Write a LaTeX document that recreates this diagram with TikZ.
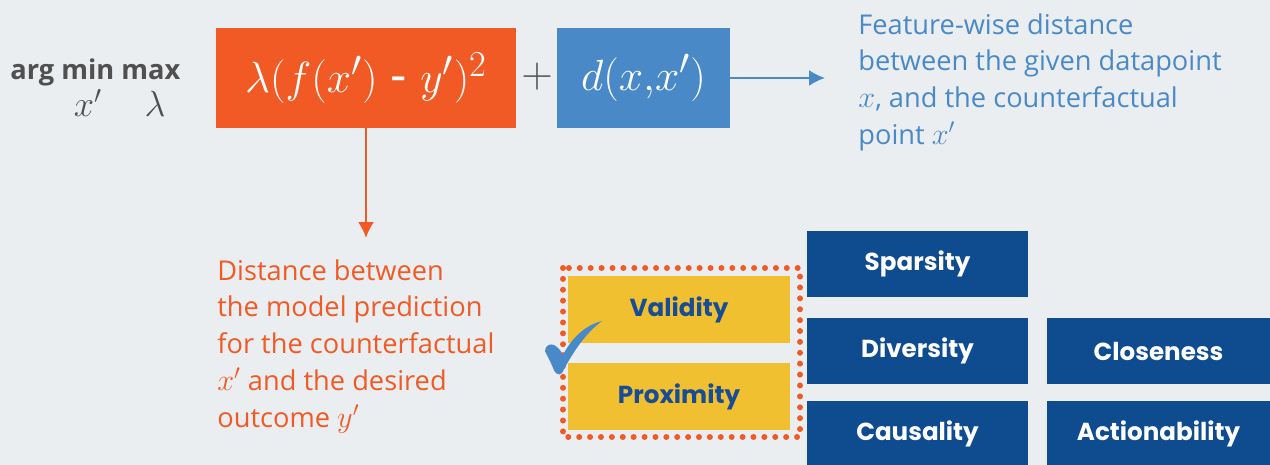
\documentclass[tikz,border=0pt]{standalone}
\usepackage{fontspec}
\setmainfont{Open Sans}
\newfontfamily\boxfont{Poppins}
\usepackage{tikz}
\usetikzlibrary{calc, positioning, arrows.meta}

\definecolor{bgcol}{HTML}{EBEEF0}
\definecolor{lossorange}{HTML}{F15A24}
\definecolor{distblue}{HTML}{4A89C8}
\definecolor{propblue}{HTML}{0F4B8F}
\definecolor{propyellow}{HTML}{F0C030}
\definecolor{yeltext}{HTML}{174C96}
\definecolor{argray}{HTML}{505050}

\newcommand{\notemath}[1]{{\fontsize{18.5}{21}\selectfont$#1$}}

\tikzset{
    termbox/.style={inner sep=0pt, minimum height=2cm, text=white,
        font=\fontsize{29}{32}\selectfont},
    propbox/.style={fill=propblue, inner sep=0pt, minimum width=4.42cm,
        minimum height=1.32cm, text=white, font=\boxfont\bfseries\fontsize{14}{16}\selectfont},
    goodbox/.style={fill=propyellow, inner sep=0pt, minimum width=4.44cm,
        minimum height=1.34cm, text=yeltext, font=\boxfont\bfseries\fontsize{14}{16}\selectfont},
    notetext/.style={anchor=north west, inner sep=0pt, align=left,
        font=\fontsize{15.5}{21}\selectfont},
}

\begin{document}
\begin{tikzpicture}[x=0.02cm, y=-0.02cm, >={Latex[length=9pt, width=9pt]}]
    % fond
    \useasboundingbox[fill=bgcol] (0,0) rectangle (1270,465);

    % objectif
    \node[anchor=base west, inner sep=0pt, text=argray,
        font=\bfseries\fontsize{15.5}{18}\selectfont] (argminmax) at (10,80) {arg min max};
    \node[anchor=base, inner sep=0pt, text=argray,
        font=\fontsize{21}{22}\selectfont] (subx) at (88,117) {$x'$};
    \node[anchor=base, inner sep=0pt, text=argray,
        font=\fontsize{21}{22}\selectfont] (sublam) at (155,117) {$\lambda$};

    % les deux termes
    \node[termbox, fill=lossorange, minimum width=6cm] (loss) at (366,78)
        {$\lambda(f(x')\mbox{ - }y')^2$};
    \node[text=argray, inner sep=0pt, font=\fontsize{23}{24}\selectfont] (plus) at (537,77) {$+$};
    \node[termbox, fill=distblue, minimum width=3.46cm] (dist) at (643.5,78) {$d(x{,}x')$};

    % explications
    \coordinate (distend) at (825,78);
    \draw[->, distblue, line width=1.2pt] (dist.east) -- (distend);
    \node[notetext, text=distblue] (distnote) at (858,13)
        {Feature-wise distance\\between the given datapoint\\\notemath{x}, and the counterfactual\\point \notemath{x'}};

    \coordinate (lossend) at (366,238);
    \draw[->, lossorange, line width=1.2pt] (loss.south) -- (lossend);
    \node[notetext, text=lossorange] (lossnote) at (217,259)
        {Distance between\\the model prediction\\for the counterfactual\\\notemath{x'} and the desired\\outcome \notemath{y'}};

    % proprietes
    \node[goodbox] (validity) at (679,309.5) {Validity};
    \node[goodbox] (proximity) at (679,396.5) {Proximity};
    \draw[lossorange, line width=3.4pt, line cap=round, dash pattern=on 0pt off 6.2pt]
        (563,268) rectangle (800,437);

    \node[propbox] (sparsity) at (917.5,264) {Sparsity};
    \node[propbox] (diversity) at (917.5,351) {Diversity};
    \node[propbox] (causality) at (917.5,434) {Causality};
    \node[propbox, minimum width=4.46cm] (closeness) at (1158.5,351) {Closeness};
    \node[propbox, minimum width=4.46cm] (actionability) at (1158.5,434) {Actionability};

    % coche
    \fill[distblue] (602,321) .. controls (590,330) and (577,344) .. (562,373)
        .. controls (559,376) and (555,374) .. (553,368)
        .. controls (551,362) and (547,356) .. (545,351)
        .. controls (545,346) and (550,343) .. (554,345)
        .. controls (558,347) and (561,351) .. (563,355)
        .. controls (571,339) and (585,325) .. (602,321) -- cycle;
\end{tikzpicture}
\end{document}
